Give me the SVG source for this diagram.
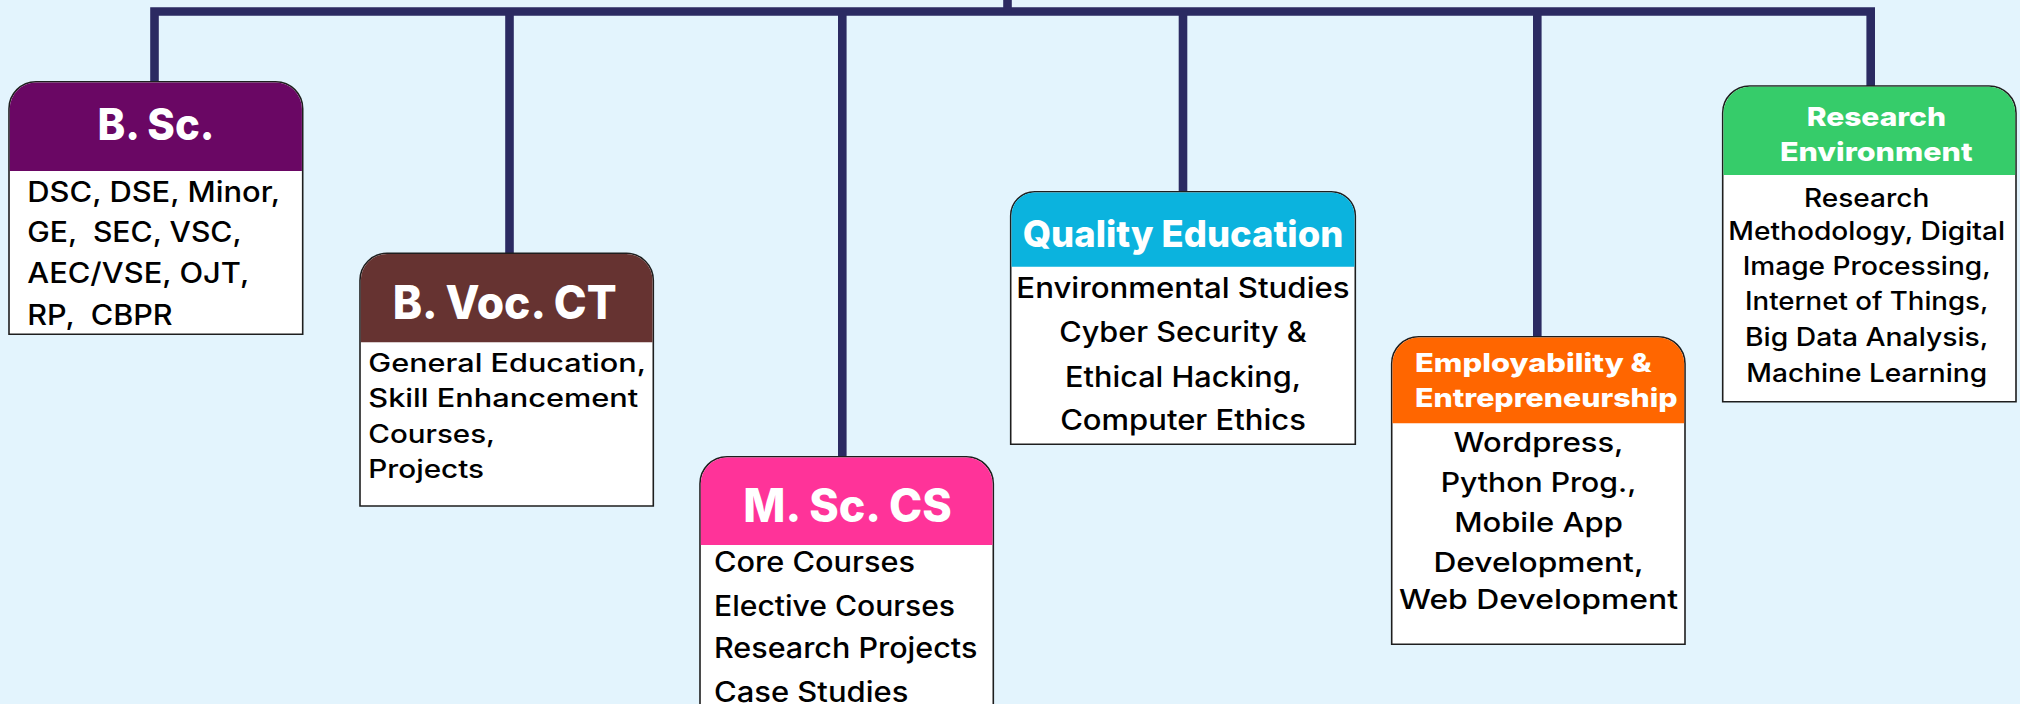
<svg xmlns="http://www.w3.org/2000/svg" width="2020" height="704" viewBox="0 0 2020 704">
<style>
.bg{fill:#E3F4FD}
.con{fill:none;stroke:#2B2A62;stroke-width:8.6;stroke-linejoin:miter;stroke-linecap:butt}
.box{fill:#FFFFFF;stroke:#1E1E1E;stroke-width:1.6}
.ttl{font-family:Inter,"Open Sans","DejaVu Sans",sans-serif;font-weight:800;fill:#FFFFFF}
.bd{font-family:Inter,"Open Sans","DejaVu Sans",sans-serif;font-weight:500;fill:#000000}
</style>
<rect class="bg" x="0" y="0" width="2020" height="704"/>
<g id="connectors">
<path class="con" d="M154.5,82 V11.5 H1870.7 V86"/>
<path class="con" d="M1007.5,0 V11.5"/>
<path class="con" d="M509.5,11.5 V253.5"/>
<path class="con" d="M842.3,11.5 V457"/>
<path class="con" d="M1183,11.5 V192"/>
<path class="con" d="M1537.3,11.5 V337"/>
</g>
<g id="node-bsc">
<path class="box" d="M9,334.3 V108.7 A27,27 0 0 1 36,81.7 H275.7 A27,27 0 0 1 302.7,108.7 V334.3 Z"/>
<path fill="#6A0764" d="M9.8,171 V108.7 A26.2,26.2 0 0 1 36,82.5 H275.7 A26.2,26.2 0 0 1 301.9,108.7 V171 Z"/>
<text class="ttl" x="156" y="140" font-size="44" text-anchor="middle" textLength="117" lengthAdjust="spacingAndGlyphs">B. Sc.</text>
<text class="bd" font-size="28" xml:space="preserve"><tspan x="27.3" y="201.7" textLength="252.7" lengthAdjust="spacingAndGlyphs">DSC, DSE, Minor,</tspan><tspan x="27.3" y="242.3" textLength="214.3" lengthAdjust="spacingAndGlyphs">GE,  SEC, VSC,</tspan><tspan x="27.3" y="283.3" textLength="222" lengthAdjust="spacingAndGlyphs">AEC/VSE, OJT,</tspan><tspan x="27.3" y="325" textLength="145.3" lengthAdjust="spacingAndGlyphs">RP,  CBPR</tspan></text>
</g>
<g id="node-bvoc">
<path class="box" d="M360,506 V280.3 A27,27 0 0 1 387,253.3 H626.3 A27,27 0 0 1 653.3,280.3 V506 Z"/>
<path fill="#663331" d="M360.8,342.3 V280.3 A26.2,26.2 0 0 1 387,254.1 H626.3 A26.2,26.2 0 0 1 652.5,280.3 V342.3 Z"/>
<text class="ttl" x="504.7" y="319.3" font-size="46" text-anchor="middle" textLength="224" lengthAdjust="spacingAndGlyphs">B. Voc. CT</text>
<text class="bd" font-size="25"><tspan x="368.3" y="371.7" textLength="277.7" lengthAdjust="spacingAndGlyphs">General Education,</tspan><tspan x="368.3" y="407.3" textLength="270" lengthAdjust="spacingAndGlyphs">Skill Enhancement</tspan><tspan x="368.3" y="443.3" textLength="126.7" lengthAdjust="spacingAndGlyphs">Courses,</tspan><tspan x="368.3" y="478.3" textLength="115.7" lengthAdjust="spacingAndGlyphs">Projects</tspan></text>
</g>
<g id="node-msc">
<path class="box" d="M700,720 V483.7 A27,27 0 0 1 727,456.7 H966.3 A27,27 0 0 1 993.3,483.7 V720 Z"/>
<path fill="#FF3399" d="M700.8,545 V483.7 A26.2,26.2 0 0 1 727,457.5 H966.3 A26.2,26.2 0 0 1 992.5,483.7 V545 Z"/>
<text class="ttl" x="847.5" y="521.7" font-size="46" text-anchor="middle" textLength="208.3" lengthAdjust="spacingAndGlyphs">M. Sc. CS</text>
<text class="bd" font-size="28"><tspan x="714" y="572.3" textLength="201" lengthAdjust="spacingAndGlyphs">Core Courses</tspan><tspan x="714" y="615.7" textLength="241" lengthAdjust="spacingAndGlyphs">Elective Courses</tspan><tspan x="714" y="658.3" textLength="263.3" lengthAdjust="spacingAndGlyphs">Research Projects</tspan><tspan x="714" y="701.7" textLength="194.3" lengthAdjust="spacingAndGlyphs">Case Studies</tspan></text>
</g>
<g id="node-quality">
<path class="box" d="M1010.7,444.3 V215.7 A24,24 0 0 1 1034.7,191.7 H1331.3 A24,24 0 0 1 1355.3,215.7 V444.3 Z"/>
<path fill="#0BB3DE" d="M1011.5,266.7 V215.7 A23.2,23.2 0 0 1 1034.7,192.5 H1331.3 A23.2,23.2 0 0 1 1354.5,215.7 V266.7 Z"/>
<text class="ttl" x="1183" y="246.7" font-size="37" text-anchor="middle" textLength="320.7" lengthAdjust="spacingAndGlyphs">Quality Education</text>
<text class="bd" font-size="28" text-anchor="middle"><tspan x="1183" y="297.7" textLength="333.3" lengthAdjust="spacingAndGlyphs">Environmental Studies</tspan><tspan x="1183" y="341.7" textLength="247.7" lengthAdjust="spacingAndGlyphs">Cyber Security &amp;</tspan><tspan x="1183" y="386.7" textLength="236" lengthAdjust="spacingAndGlyphs">Ethical Hacking,</tspan><tspan x="1183" y="430" textLength="245.7" lengthAdjust="spacingAndGlyphs">Computer Ethics</tspan></text>
</g>
<g id="node-employability">
<path class="box" d="M1391.7,644.3 V363.7 A27,27 0 0 1 1418.7,336.7 H1658 A27,27 0 0 1 1685,363.7 V644.3 Z"/>
<path fill="#FF6600" d="M1392.5,423.3 V363.7 A26.2,26.2 0 0 1 1418.7,337.5 H1658 A26.2,26.2 0 0 1 1684.2,363.7 V423.3 Z"/>
<text class="ttl" font-size="26"><tspan x="1415" y="372.3" textLength="236.7" lengthAdjust="spacingAndGlyphs">Employability &amp;</tspan><tspan x="1415" y="407.3" textLength="262.7" lengthAdjust="spacingAndGlyphs">Entrepreneurship</tspan></text>
<text class="bd" font-size="27" text-anchor="middle"><tspan x="1538.5" y="451.7" textLength="170" lengthAdjust="spacingAndGlyphs">Wordpress,</tspan><tspan x="1538.5" y="491.7" textLength="195.7" lengthAdjust="spacingAndGlyphs">Python Prog.,</tspan><tspan x="1538.5" y="531.7" textLength="168.7" lengthAdjust="spacingAndGlyphs">Mobile App</tspan><tspan x="1538.5" y="571.7" textLength="210" lengthAdjust="spacingAndGlyphs">Development,</tspan><tspan x="1538.5" y="609.3" textLength="279" lengthAdjust="spacingAndGlyphs">Web Development</tspan></text>
</g>
<g id="node-research">
<path class="box" d="M1722.7,401.7 V113 A27,27 0 0 1 1749.7,86 H1989 A27,27 0 0 1 2016,113 V401.7 Z"/>
<path fill="#36CC6A" d="M1723.5,175 V113 A26.2,26.2 0 0 1 1749.7,86.8 H1989 A26.2,26.2 0 0 1 2015.2,113 V175 Z"/>
<text class="ttl" font-size="26" text-anchor="middle"><tspan x="1876.3" y="125.7" textLength="139.3" lengthAdjust="spacingAndGlyphs">Research</tspan><tspan x="1876.3" y="161" textLength="192.7" lengthAdjust="spacingAndGlyphs">Environment</tspan></text>
<text class="bd" font-size="25" text-anchor="middle"><tspan x="1866.7" y="206.7" textLength="125.3" lengthAdjust="spacingAndGlyphs">Research</tspan><tspan x="1866.7" y="240" textLength="276.7" lengthAdjust="spacingAndGlyphs">Methodology, Digital</tspan><tspan x="1866.7" y="275" textLength="248" lengthAdjust="spacingAndGlyphs">Image Processing,</tspan><tspan x="1866.7" y="310" textLength="243.3" lengthAdjust="spacingAndGlyphs">Internet of Things,</tspan><tspan x="1866.7" y="346" textLength="243.3" lengthAdjust="spacingAndGlyphs">Big Data Analysis,</tspan><tspan x="1866.7" y="381.7" textLength="240.7" lengthAdjust="spacingAndGlyphs">Machine Learning</tspan></text>
</g>
</svg>
